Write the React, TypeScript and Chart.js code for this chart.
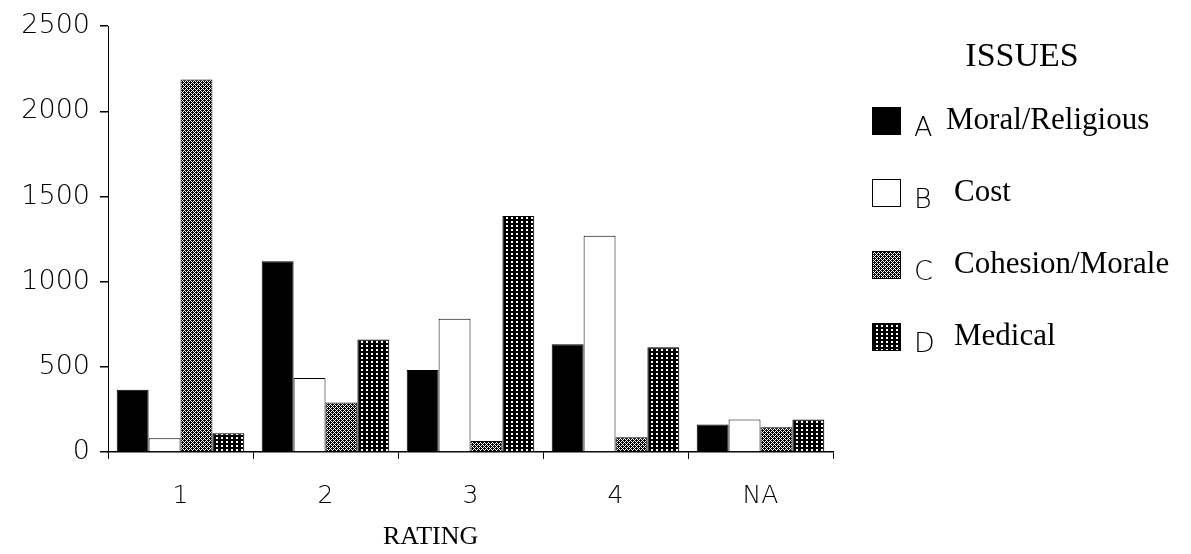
import React, { useEffect, useRef } from "react";
import { Chart, registerables } from "chart.js";

Chart.register(...registerables);

const categories = ["1", "2", "3", "4", "NA"];
const seriesLetters = ["A", "B", "C", "D"];
const seriesNames = ["Moral/Religious", "Cost", "Cohesion/Morale", "Medical"];
const moralReligious = [365, 1120, 481, 632, 162];
const cost = [81, 435, 783, 1270, 191];
const cohesionMorale = [2187, 290, 64, 87, 145];
const medical = [110, 661, 1386, 615, 191];
const yTicks = [0, 500, 1000, 1500, 2000, 2500];
const legendTitle = "ISSUES";
const xTitle = "RATING";

function makePattern(kind: string): CanvasPattern | string {
  const c = document.createElement("canvas");
  const ctx = c.getContext("2d");
  if (!ctx) return "#444";
  ctx.imageSmoothingEnabled = false;
  if (kind === "checker") {
    c.width = 4;
    c.height = 4;
    ctx.fillStyle = "#000";
    ctx.fillRect(0, 0, 4, 4);
    ctx.fillStyle = "#fff";
    for (let x = 0; x < 4; x++) {
      for (let y = 0; y < 4; y++) {
        if ((x + y) % 2 === 0 && !(x === 0 && y === 0) && !(x === 2 && y === 2)) {
          ctx.fillRect(x, y, 1, 1);
        }
      }
    }
  } else {
    c.width = 5;
    c.height = 4;
    ctx.fillStyle = "#000";
    ctx.fillRect(0, 0, 5, 4);
    ctx.fillStyle = "#fff";
    ctx.fillRect(1, 1, 2, 2);
  }
  const p = ctx.createPattern(c, "repeat");
  return p || "#444";
}

export default function App() {
  const ref = useRef<HTMLCanvasElement | null>(null);

  useEffect(() => {
    if (!ref.current) return;
    const fills = ["#000000", "#ffffff", makePattern("checker"), makePattern("dots")];
    const values = [moralReligious, cost, cohesionMorale, medical];

    const legendPlugin = {
      id: "customLegend",
      afterDraw(chart: any) {
        const ctx = chart.ctx;
        ctx.save();
        ctx.fillStyle = "#000";
        ctx.textBaseline = "middle";
        ctx.textAlign = "center";
        ctx.font = "34px 'Liberation Serif', serif";
        ctx.fillText(legendTitle, 1022, 57);
        seriesNames.forEach((name, i) => {
          const cy = 121 + i * 72;
          ctx.fillStyle = fills[i] as any;
          ctx.fillRect(872, cy - 14, 29, 28);
          ctx.strokeStyle = "#000";
          ctx.lineWidth = 1;
          ctx.strokeRect(872.5, cy - 13.5, 28, 27);
          ctx.fillStyle = "#000";
          ctx.textAlign = "left";
          ctx.textBaseline = "alphabetic";
          ctx.font = "200 27px 'DejaVu Sans', sans-serif";
          ctx.fillText(seriesLetters[i], 914, cy + 15);
          ctx.font = "31px 'Liberation Serif', serif";
          ctx.fillText(name, i === 0 ? 946 : 954, cy + 8);
        });
        ctx.textAlign = "center";
        ctx.textBaseline = "middle";
        ctx.font = "26px 'Liberation Serif', serif";
        const area = chart.chartArea;
        ctx.fillText(xTitle, area.left + (area.right - area.left) * 0.445, 537);
        ctx.restore();
      },
    };

    const chart = new Chart(ref.current, {
      type: "bar",
      data: {
        labels: categories,
        datasets: seriesNames.map((name, i) => ({
          label: name,
          data: values[i],
          backgroundColor: fills[i] as any,
          borderColor: "#000",
          borderWidth: 1,
          categoryPercentage: 0.88,
          barPercentage: 1.0,
        })),
      },
      options: {
        responsive: false,
        animation: false,
        devicePixelRatio: 1,
        layout: { padding: { top: 21, right: 358, left: 0, bottom: 0 } },
        plugins: {
          legend: { display: false },
          tooltip: { enabled: false },
          title: { display: false },
        },
        scales: {
          x: {
            grid: {
              display: true,
              drawOnChartArea: false,
              drawTicks: true,
              tickLength: 7,
              color: "#000",
              offset: true,
            },
            border: { display: true, color: "#000", width: 1.5 },
            ticks: {
              color: "#000",
              font: { family: "'DejaVu Sans', sans-serif", size: 25, weight: 200 as any },
              padding: 22,
            },
            afterFit(scale: any) {
              scale.height = 102;
            },
          },
          y: {
            min: 0,
            max: 2500,
            afterBuildTicks(scale: any) {
              scale.ticks = yTicks.map((v) => ({ value: v }));
            },
            grid: {
              display: true,
              drawOnChartArea: false,
              drawTicks: true,
              tickLength: 8,
              color: "#000",
              lineWidth: 1.5,
            },
            border: { display: true, color: "#000", width: 1, dash: [1, 5] },
            ticks: {
              color: "#000",
              font: { family: "'DejaVu Sans', sans-serif", size: 27, weight: 200 as any },
              padding: 10,
              callback: (v: any) => String(v),
            },
            afterFit(scale: any) {
              scale.width = 108;
            },
          },
        },
      },
      plugins: [legendPlugin],
    });
    return () => chart.destroy();
  }, []);

  return (
    <div style={{ position: "fixed", left: 0, top: 0, width: 1191, height: 554, background: "#fff" }}>
      <canvas ref={ref} width={1191} height={554} style={{ display: "block" }} />
    </div>
  );
}
